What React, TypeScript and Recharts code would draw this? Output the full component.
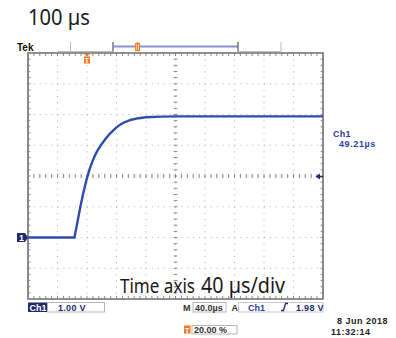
import React from "react";
import {
  LineChart,
  Line,
  XAxis,
  YAxis,
  CartesianGrid,
  ReferenceLine,
  ReferenceArea,
  ReferenceDot,
} from "recharts";

// Ch1 step response (time in µs, level in V)
const TIME_US = [
  0, 20, 40, 63, 67, 71, 75, 79, 83, 87, 91, 95, 100, 105, 110, 115, 120, 125,
  130, 140, 150, 160, 180, 200, 220, 240, 260, 280, 300, 320, 340, 360, 380, 400,
];
const CH1_VOLTS = [
  0, 0, 0, 0, 0.5, 1.0, 1.45, 1.85, 2.18, 2.45, 2.68, 2.86, 3.04, 3.2, 3.35,
  3.47, 3.58, 3.67, 3.74, 3.83, 3.88, 3.91, 3.93, 3.94, 3.94, 3.94, 3.94, 3.94,
  3.94, 3.94, 3.94, 3.94, 3.94, 3.94,
];

const TIME_TICKS = [0, 40, 80, 120, 160, 200, 240, 280, 320, 360, 400];
const VOLT_TICKS = [-2, -1, 0, 1, 2, 3, 4, 5, 6];
const MINOR_TIME = Array.from({ length: 51 }, (_, i) => i * 8);
const MINOR_VOLT = Array.from({ length: 41 }, (_, i) => -2 + i * 0.2);

const TRIGGER_TIME = 80;
const TRIGGER_LEVEL = 1.98;

const W = 396;
const H = 338;
const NAVY = "#1f2a6e";
const BLUE = "#2b3f9e";
const ORANGE = "#f07a1e";
const TRACE = "#2d4cae";
const TEK_FONT = "'Liberation Sans', Arial, sans-serif";
const BIG_FONT = "'Noto Sans', 'Open Sans', sans-serif";

const data = TIME_US.map((t, i) => ({ t, v: CH1_VOLTS[i] }));

const tickStroke = "#8a8a8a";

function GroundMarker({ cx, cy }: any) {
  return (
    <g>
      <polygon
        points={`${cx - 11},${cy - 4.5} ${cx - 3},${cy - 4.5} ${cx},${cy} ${cx - 3},${cy + 4.5} ${cx - 11},${cy + 4.5}`}
        fill={NAVY}
      />
      <text x={cx - 9} y={cy + 3.5} fill="#fff" fontSize={9} fontWeight="bold" fontFamily={TEK_FONT}>
        1
      </text>
    </g>
  );
}

function TriggerPosMarker({ cx, cy }: any) {
  return (
    <g>
      <polygon points={`${cx - 3},${cy + 1} ${cx + 3},${cy + 1} ${cx},${cy + 3.5}`} fill={ORANGE} />
      <rect x={cx - 3} y={cy + 3.5} width={6} height={7} fill={ORANGE} />
      <text x={cx} y={cy + 9.5} textAnchor="middle" fill="#fff" fontSize={7} fontWeight="bold" fontFamily={TEK_FONT}>
        T
      </text>
    </g>
  );
}

function TriggerLevelMarker({ cx, cy }: any) {
  return (
    <g>
      <polygon points={`${cx - 7.5},${cy} ${cx - 3},${cy - 3} ${cx - 3},${cy + 3}`} fill={NAVY} />
      <line x1={cx - 3} y1={cy} x2={cx} y2={cy} stroke={NAVY} strokeWidth={1.5} />
    </g>
  );
}

export default function App() {
  return (
    <div style={{ position: "absolute", left: 0, top: 0, width: W, height: H, background: "#fff" }}>
      <LineChart width={W} height={H} data={data} margin={{ top: 53, left: 28, right: 73, bottom: 39 }}>
        <XAxis dataKey="t" type="number" domain={[0, 400]} ticks={TIME_TICKS} hide />
        <YAxis type="number" domain={[-2, 6]} ticks={VOLT_TICKS} hide />
        <CartesianGrid vertical={false} stroke="#b0b0b0" strokeDasharray="1 4.9" />
        <CartesianGrid horizontal={false} stroke="#b0b0b0" strokeDasharray="1 5.15" />

        {MINOR_TIME.map((t) => (
          <ReferenceLine key={`top${t}`} segment={[{ x: t, y: 6 }, { x: t, y: 5.9 }]} stroke={tickStroke} />
        ))}
        {MINOR_TIME.map((t) => (
          <ReferenceLine key={`bot${t}`} segment={[{ x: t, y: -2 }, { x: t, y: -1.9 }]} stroke={tickStroke} />
        ))}
        {MINOR_TIME.map((t) => (
          <ReferenceLine key={`mid${t}`} segment={[{ x: t, y: 1.93 }, { x: t, y: 2.07 }]} stroke={tickStroke} />
        ))}
        {MINOR_VOLT.map((v) => (
          <ReferenceLine key={`l${v}`} segment={[{ x: 0, y: v }, { x: 3.3, y: v }]} stroke={tickStroke} />
        ))}
        {MINOR_VOLT.map((v) => (
          <ReferenceLine key={`r${v}`} segment={[{ x: 396.7, y: v }, { x: 400, y: v }]} stroke={tickStroke} />
        ))}
        {MINOR_VOLT.map((v) => (
          <ReferenceLine key={`c${v}`} segment={[{ x: 197.4, y: v }, { x: 202.6, y: v }]} stroke={tickStroke} />
        ))}

        <ReferenceArea x1={0} x2={400} y1={-2} y2={6} fill="none" stroke="#6e6e6e" strokeWidth={1.6} ifOverflow="visible" />

        <Line
          dataKey="v"
          type="linear"
          stroke={TRACE}
          strokeWidth={2.4}
          dot={false}
          isAnimationActive={false}
        />

        <ReferenceDot x={0} y={0} r={0} ifOverflow="visible" shape={(p: any) => <GroundMarker {...p} />} />
        <ReferenceDot x={TRIGGER_TIME} y={6} r={0} ifOverflow="visible" shape={(p: any) => <TriggerPosMarker {...p} />} />
        <ReferenceDot x={400} y={TRIGGER_LEVEL} r={0} ifOverflow="visible" shape={(p: any) => <TriggerLevelMarker {...p} />} />
      </LineChart>

      <svg width={W} height={H} style={{ position: "absolute", left: 0, top: 0, pointerEvents: "none" }}>
        {/* title */}
        <text x={28} y={25} fontSize={21} fill="#1a1a1a" fontFamily={BIG_FONT} textLength={62} lengthAdjust="spacingAndGlyphs">
          100 µs
        </text>

        {/* top record bar */}
        <text x={17} y={51} fontSize={10} fontWeight="bold" fill="#111" fontFamily={TEK_FONT}>
          Tek
        </text>
        <line x1={58} y1={51.5} x2={113} y2={51.5} stroke="#bbb" />
        <line x1={70.5} y1={42} x2={70.5} y2={51.5} stroke="#bbb" />
        <line x1={113} y1={42} x2={113} y2={51.5} stroke="#555" strokeWidth={1.2} />
        <line x1={113} y1={46.5} x2={238} y2={46.5} stroke="#8c8fd0" strokeWidth={2} />
        <line x1={238} y1={42} x2={238} y2={51.5} stroke="#555" strokeWidth={1.2} />
        <line x1={238} y1={51.5} x2={281} y2={51.5} stroke="#bbb" />
        <line x1={281} y1={42} x2={281} y2={51.5} stroke="#bbb" />
        <rect x={135.8} y={43.5} width={3.6} height={7} fill="#fff" stroke={ORANGE} strokeWidth={1.3} />
        <line x1={137.6} y1={42} x2={137.6} y2={51} stroke={ORANGE} strokeWidth={1} />

        {/* right readout */}
        <text x={333} y={136.5} fontSize={9} fontWeight="bold" fill={BLUE} fontFamily={TEK_FONT} letterSpacing={0.3}>
          Ch1
        </text>
        <text x={339} y={146.5} fontSize={9} fontWeight="bold" fill={BLUE} fontFamily={TEK_FONT} letterSpacing={0.6}>
          49.21µs
        </text>

        {/* annotation */}
        <text x={120} y={293} fontSize={19} fill="#1a1a1a" fontFamily={BIG_FONT} textLength={75} lengthAdjust="spacingAndGlyphs">
          Time axis
        </text>
        <text x={201} y={293} fontSize={22} fill="#1a1a1a" fontFamily={BIG_FONT} textLength={84} lengthAdjust="spacingAndGlyphs">
          40 µs/div
        </text>

        {/* bottom row 1 */}
        <rect x={28} y={302.5} width={19} height={9.5} fill={NAVY} />
        <text x={29.5} y={310.8} fontSize={9} fontWeight="bold" fill="#fff" fontFamily={TEK_FONT}>
          Ch1
        </text>
        <rect x={47.5} y={302.5} width={57} height={9.5} fill="none" stroke="#b5b5b5" />
        <text x={58} y={310.8} fontSize={9} fontWeight="bold" fill={NAVY} fontFamily={TEK_FONT} letterSpacing={0.3}>
          1.00 V
        </text>

        <text x={183} y={310.8} fontSize={9} fontWeight="bold" fill="#333" fontFamily={TEK_FONT}>
          M
        </text>
        <rect x={193} y={302.5} width={33} height={9.5} fill="none" stroke="#b5b5b5" />
        <text x={195} y={310.8} fontSize={9} fontWeight="bold" fill="#333" fontFamily={TEK_FONT}>
          40.0µs
        </text>
        <text x={231.5} y={310.8} fontSize={9} fontWeight="bold" fill="#333" fontFamily={TEK_FONT}>
          A
        </text>
        <rect x={238.5} y={302.5} width={84.5} height={9.5} fill="none" stroke="#c8c8c8" />
        <text x={248} y={310.8} fontSize={9} fontWeight="bold" fill={BLUE} fontFamily={TEK_FONT}>
          Ch1
        </text>
        <polyline points="281,310.5 283.5,310.5 285.5,303.5 288,303.5" fill="none" stroke={NAVY} strokeWidth={1.3} />
        <text x={296} y={310.8} fontSize={9} fontWeight="bold" fill={NAVY} fontFamily={TEK_FONT} letterSpacing={0.3}>
          1.98 V
        </text>

        {/* bottom row 2 */}
        <rect x={184} y={325.5} width={6.5} height={8} fill={ORANGE} />
        <text x={187.2} y={332.5} textAnchor="middle" fontSize={7} fontWeight="bold" fill="#fff" fontFamily={TEK_FONT}>
          T
        </text>
        <rect x={192} y={325.5} width={45} height={8.5} fill="none" stroke="#b5b5b5" />
        <text x={194} y={333.3} fontSize={9} fontWeight="bold" fill="#333" fontFamily={TEK_FONT}>
          20.00 %
        </text>

        <text x={337} y={323.5} fontSize={9} fontWeight="bold" fill="#222" fontFamily={TEK_FONT} letterSpacing={0.5}>
          8 Jun  2018
        </text>
        <text x={331} y={334.5} fontSize={9} fontWeight="bold" fill="#222" fontFamily={TEK_FONT} letterSpacing={0.5}>
          11:32:14
        </text>
      </svg>
    </div>
  );
}
